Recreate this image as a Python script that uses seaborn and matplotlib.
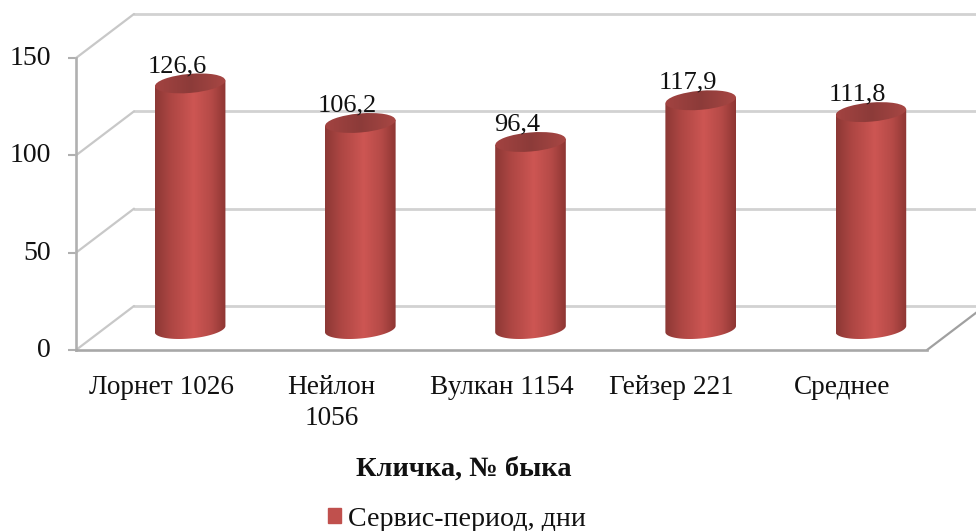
import matplotlib
matplotlib.use("Agg")
import matplotlib.pyplot as plt
import numpy as np
import seaborn as sns
from matplotlib.colors import LinearSegmentedColormap
from matplotlib.patches import Ellipse, Patch, Polygon
from matplotlib.transforms import Affine2D

names = ['Лорнет 1026', 'Нейлон\n1056', 'Вулкан 1154', 'Гейзер 221', 'Среднее']
values = [126.6, 106.2, 96.4, 117.9, 111.8]
yticks = [0, 50, 100, 150]
xlabel = 'Кличка, № быка'
series = 'Сервис-период, дни'

W, H = 976, 531
sns.set_style("white")
plt.rcParams['font.family'] = ['Liberation Serif', 'DejaVu Serif']
plt.rcParams['font.size'] = 19


def place(fig, x0, x1, ytop, ybot):
    return fig.add_axes([x0 / W, 1 - ybot / H, (x1 - x0) / W, (ybot - ytop) / H])


fig = plt.figure(figsize=(W / 100, H / 100), dpi=100)
fig.patch.set_facecolor('white')

# front plane of the 3d box, carries the ticks
ax = place(fig, 76, 927, 58, 350)
ax.set_xlim(-0.5, 4.5)
ax.set_ylim(0, 150)
ax.patch.set_alpha(0)
sns.despine(ax=ax, top=True, right=True)
for s in ['left', 'bottom']:
    ax.spines[s].set_color('#b0b0b0')
    ax.spines[s].set_linewidth(1.9)
ax.spines['bottom'].set_color('#a8a8a8')
ax.set_yticks(yticks)
ax.set_xticks(range(len(names)))
ax.set_xticklabels(names, fontsize=19.6, color='#111111', linespacing=1.33)
ax.tick_params(axis='x', length=0, pad=18)
ax.tick_params(axis='y', left=True, length=6, width=1.5, color='#b0b0b0', pad=12, labelsize=20, labelcolor='#111111')
for lab in ax.get_yticklabels():
    lab.set_transform(lab.get_transform() + Affine2D().translate(0, 2.5))
ax.set_xlabel(xlabel, fontsize=20.4, fontweight='bold', color='#111111')
ax.xaxis.set_label_coords((464 - 76) / 851, (350 - 457) / 292)

# back wall and side wall, same scale shifted by the depth of the box
dx, dy = 58, 44
back = ax.transData + Affine2D().translate(dx, dy)
for v in yticks:
    ax.plot([-0.5, 4.5], [v, v], transform=back, color='#d2d2d2', lw=2, clip_on=False, zorder=1)
    x0, y0 = ax.transData.transform((-0.5, v))
    ax.plot([x0, x0 + dx], [y0, y0 + dy], transform=None, color='#c8c8c8', lw=1.6, clip_on=False, zorder=1)
x0, y0 = ax.transData.transform((4.5, 0))
ax.plot([x0, x0 + dx], [y0, y0 + dy], transform=None, color='#a0a0a0', lw=1.6, clip_on=False, zorder=1)

# cylinders sit half way in the box, axes run a bit below zero for the round bottom
yscale = 1.94
ymin = -14 / yscale
ymax = 150
bx = place(fig, 105, 956, 329 - ymax * yscale, 329 - ymin * yscale)
bx.patch.set_alpha(0)
bx.set_axis_off()
sns.barplot(x=list(range(len(values))), y=values, ax=bx, color='#c0504d', width=0.415, saturation=1)

body = LinearSegmentedColormap.from_list('body', [(0, '#8c3835'), (0.22, '#ad4643'), (0.55, '#cd5653'), (0.8, '#b54a47'), (1, '#8e3633')])
cap = LinearSegmentedColormap.from_list('cap', [(0, '#a34341'), (0.5, '#8c3b39'), (1, '#a84744')])
grad = np.linspace(0, 1, 128).reshape(1, -1)
ry = 9.5 / yscale
tilt = 5

bx.set_ylim(ymin, ymax)
bx.set_xlim(-0.5, 4.5)
for bar, val in zip(bx.containers[0], values):
    xl, w, top = bar.get_x(), bar.get_width(), bar.get_height()
    xc = xl + w / 2
    px_w = w * 851 / 5
    t = np.linspace(0, np.pi, 60)
    # slanted ellipse edges, written in data units
    slope = np.tan(np.radians(tilt)) * (px_w / 2) / yscale
    arc = np.column_stack([xc + w / 2 * np.cos(t), -ry * np.sin(t) + slope * np.cos(t)])
    top_pts = [(xl, top - slope), (xl + w, top + slope)]
    clip = Polygon(np.vstack([top_pts, arc]), transform=bx.transData)
    im = bx.imshow(grad, extent=[xl, xl + w, ymin, top + 8], cmap=body, aspect='auto', zorder=3)
    im.set_clip_path(clip)
    ell = Ellipse(bx.transData.transform((xc, top)), px_w, 19, angle=tilt, transform=None, zorder=4)
    capim = bx.imshow(grad, extent=[xl, xl + w, top - 9, top + 9], cmap=cap, aspect='auto', zorder=4, clip_on=True)
    capim.set_clip_path(ell)
    bar.set_visible(False)
    bx.annotate(str(val).replace('.', ','), (xc, top), xytext=(-9.5, 12.5), textcoords='offset points',
                ha='center', va='center', fontsize=19, color='#111111', zorder=6)
bx.set_ylim(ymin, ymax)
bx.set_xlim(-0.5, 4.5)

fig.legend(handles=[Patch(color='#c0504d', label=series)], loc='center', bbox_to_anchor=(457 / W, 1 - 519 / H),
           frameon=False, fontsize=20.2, handlelength=0.47, handleheight=0.47, handletextpad=0.25, labelcolor='#111111')

fig.savefig('out.png', dpi=100)
